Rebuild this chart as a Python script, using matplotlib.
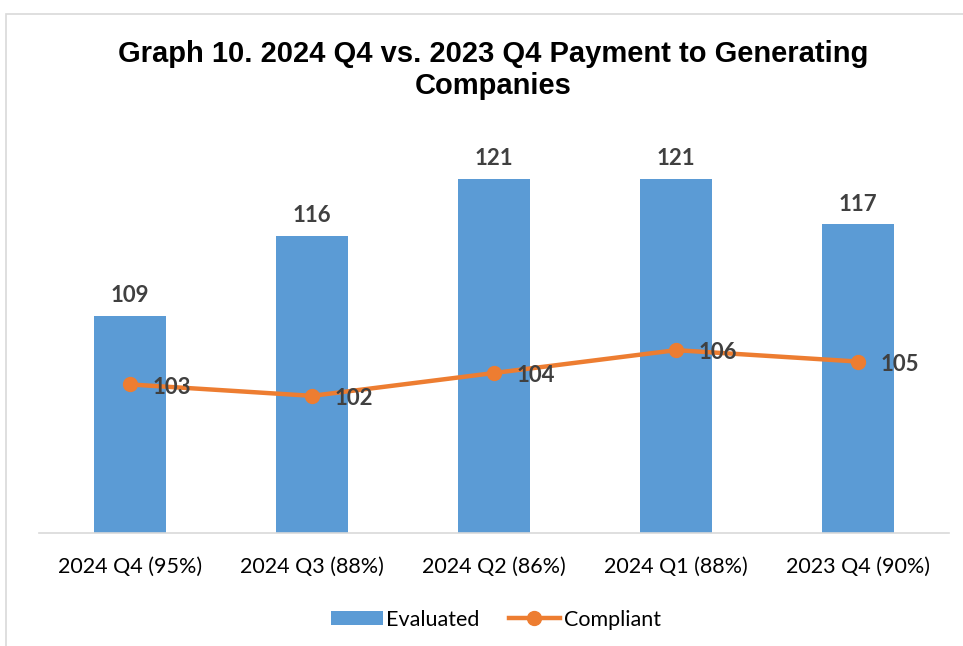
import matplotlib.pyplot as plt
from matplotlib.patches import Rectangle

categories = ["2024 Q4 (95%)", "2024 Q3 (88%)", "2024 Q2 (86%)", "2024 Q1 (88%)", "2023 Q4 (90%)"]
evaluated = [109, 116, 121, 121, 117]
compliant = [103, 102, 104, 106, 105]

bar_color = "#5B9BD5"
line_color = "#ED7D31"
label_color = "#404040"

fig = plt.figure(figsize=(9.63, 6.46), dpi=100)
ax = fig.add_axes([0.0405, 0.175, 0.945, 0.619])

x = range(len(categories))
bars = ax.bar(x, evaluated, width=0.4, color=bar_color, label="Evaluated", zorder=2)
line, = ax.plot(x, compliant, color=line_color, lw=3.2, marker="o", ms=10,
                label="Compliant", zorder=3)

for i, v in enumerate(evaluated):
    ax.annotate(str(v), (i, v), xytext=(0, 7), textcoords="offset points",
                ha="center", va="bottom", fontsize=16, fontweight="bold",
                color=label_color, family="Lato")
for i, v in enumerate(compliant):
    ax.annotate(str(v), (i, v), xytext=(16, -2), textcoords="offset points",
                ha="left", va="center", fontsize=16, fontweight="bold",
                color=label_color, family="Lato", zorder=4)

ax.set_xlim(-0.5, 4.5)
ax.set_ylim(90, 125)
ax.set_xticks(list(x))
ax.set_xticklabels(categories, fontsize=15.5, family="Lato")
ax.tick_params(axis="x", length=0, pad=17)
ax.set_yticks([])
for side in ["top", "right", "left"]:
    ax.spines[side].set_visible(False)
ax.spines["bottom"].set_color("#D9D9D9")
ax.spines["bottom"].set_linewidth(1.2)

fig.text(0.512, 0.892, "Graph 10. 2024 Q4 vs. 2023 Q4 Payment to Generating\nCompanies",
         ha="center", va="center", fontsize=21, fontweight="bold",
         family="Liberation Sans", linespacing=1.2)

fig.legend([bars, line], ["Evaluated", "Compliant"], loc="center",
           bbox_to_anchor=(0.515, 0.041), ncol=2, frameon=False,
           prop={"family": "Lato", "size": 15.5}, handlelength=2.4,
           handleheight=0.6, columnspacing=1.35, handletextpad=0.15)

fig.patches.append(Rectangle((0.006, -0.1), 1.2, 1.078, transform=fig.transFigure,
                             fill=False, edgecolor="#D9D9D9", lw=1.2))

fig.savefig("out.png", dpi=100)
